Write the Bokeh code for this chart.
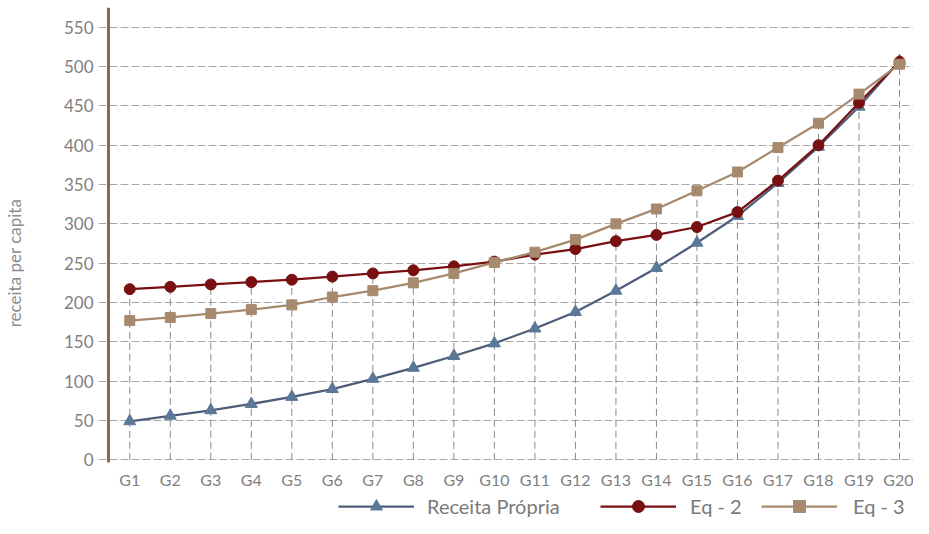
from bokeh.plotting import figure
from bokeh.models import Range1d, Legend, LegendItem, FixedTicker, LinearAxis
from bokeh.embed import file_html
from bokeh.resources import INLINE

# ---- data ----
categories = ["G1", "G2", "G3", "G4", "G5", "G6", "G7", "G8", "G9", "G10",
              "G11", "G12", "G13", "G14", "G15", "G16", "G17", "G18", "G19", "G20"]
receita_propria = [49, 56, 63, 71, 80, 90, 103, 117, 132, 148,
                   167, 188, 215, 244, 276, 310, 352, 398, 449, 507]
eq_2 = [217, 220, 223, 226, 229, 233, 237, 241, 246, 252,
        261, 268, 278, 286, 296, 315, 355, 400, 454, 506]
eq_3 = [177, 181, 186, 191, 197, 207, 215, 225, 237, 251,
        264, 280, 300, 319, 342, 366, 397, 428, 465, 503]
y_ticks = [0, 50, 100, 150, 200, 250, 300, 350, 400, 450, 500, 550]

x = list(range(1, len(categories) + 1))
tops = [max(a, b, c) for a, b, c in zip(receita_propria, eq_2, eq_3)]

FONT = "Lato"
C_REC_LINE = "#4e5e78"
C_REC_MARK = "#5c7898"
C_EQ2 = "#781012"
C_EQ3 = "#a78a6e"
C_AXIS = "#876a4f"

# layout constants
Y_MIN, Y_MAX = -74.6, 575.1      # frame also covers the legend strip
Y_AXIS_BOTTOM = -3.4
X_MIN, X_MAX = 0.2283, 20.345
Y_AXIS_X = 0.4748

p = figure(width=913, height=518, output_backend="svg", toolbar_location=None,
           x_range=Range1d(X_MIN, X_MAX), y_range=Range1d(Y_MIN, Y_MAX),
           min_border_left=97, min_border_right=0, min_border_top=7,
           min_border_bottom=0)
p.outline_line_color = None
p.background_fill_color = "white"
p.border_fill_color = "white"

# grid
p.xgrid.visible = False
p.ygrid.ticker = FixedTicker(ticks=y_ticks)
p.ygrid.grid_line_color = "#a8a8a8"
p.ygrid.grid_line_dash = "8 3"
p.ygrid.grid_line_width = 1

# drop lines
p.segment(x0=x, y0=[0] * len(x), x1=x, y1=tops, line_color="#8a8a8a",
          line_dash="7 4", line_width=1)

# left axis: labels only
yax = p.yaxis[0]
yax.bounds = (Y_AXIS_BOTTOM, 551)
yax.ticker = FixedTicker(ticks=y_ticks)
yax.axis_line_color = None
yax.major_tick_line_color = None
yax.minor_tick_line_color = None
yax.major_tick_out = 0
yax.major_tick_in = 0
yax.major_label_standoff = 5
yax.major_label_text_font = FONT
yax.major_label_text_font_size = "17px"
yax.major_label_text_color = "#7f7f7f"
yax.axis_label = "receita per capita"
yax.axis_label_text_font = FONT
yax.axis_label_text_font_size = "17px"
yax.axis_label_text_font_style = "normal"
yax.axis_label_text_color = "#8c8c8c"
yax.axis_label_standoff = 36

# brown vertical axis line at its own position
line_axis = LinearAxis(fixed_location=Y_AXIS_X, bounds=(Y_AXIS_BOTTOM, Y_MAX),
                       ticker=FixedTicker(ticks=y_ticks),
                       axis_line_color=C_AXIS, axis_line_width=3,
                       major_tick_line_color=None, minor_tick_line_color=None,
                       major_label_text_font_size="0px",
                       major_label_text_alpha=0)
p.add_layout(line_axis, "left")

xax = p.xaxis[0]
xax.fixed_location = Y_AXIS_BOTTOM
xax.ticker = FixedTicker(ticks=x)
xax.major_label_overrides = {i: c for i, c in zip(x, categories)}
xax.axis_line_color = None
xax.major_tick_line_color = None
xax.minor_tick_line_color = None
xax.major_tick_out = 0
xax.major_tick_in = 0
xax.major_label_standoff = 7
xax.major_label_text_font = FONT
xax.major_label_text_font_size = "16px"
xax.major_label_text_color = "#7f7f7f"

# series
r1l = p.line(x, receita_propria, line_color=C_REC_LINE, line_width=2.25)
r1m = p.scatter(x, receita_propria, marker="triangle", size=12,
                fill_color=C_REC_MARK, line_color=C_REC_MARK)
r2l = p.line(x, eq_2, line_color=C_EQ2, line_width=2.25)
r2m = p.scatter(x, eq_2, marker="circle", size=11, fill_color=C_EQ2,
                line_color=C_EQ2)
r3l = p.line(x, eq_3, line_color=C_EQ3, line_width=2.25)
r3m = p.scatter(x, eq_3, marker="square", size=10, fill_color=C_EQ3,
                line_color=C_EQ3)


def make_legend(label, renderers, vx, standoff):
    lg = Legend(items=[LegendItem(label=label, renderers=renderers)],
                location=(vx, -3), orientation="horizontal",
                glyph_width=76, glyph_height=30, label_height=30,
                label_standoff=standoff, padding=0, margin=0, spacing=0,
                border_line_color=None, background_fill_alpha=0,
                label_text_font=FONT, label_text_font_size="20px",
                label_text_color="#7a7a7a")
    p.add_layout(lg, "center")


make_legend("Receita Própria", [r1l, r1m], 240, 13)
make_legend("Eq - 2", [r2l, r2m], 502, 14)
make_legend("Eq - 3", [r3l, r3m], 663, 16)

open("out.html", "w").write(file_html(p, INLINE))
